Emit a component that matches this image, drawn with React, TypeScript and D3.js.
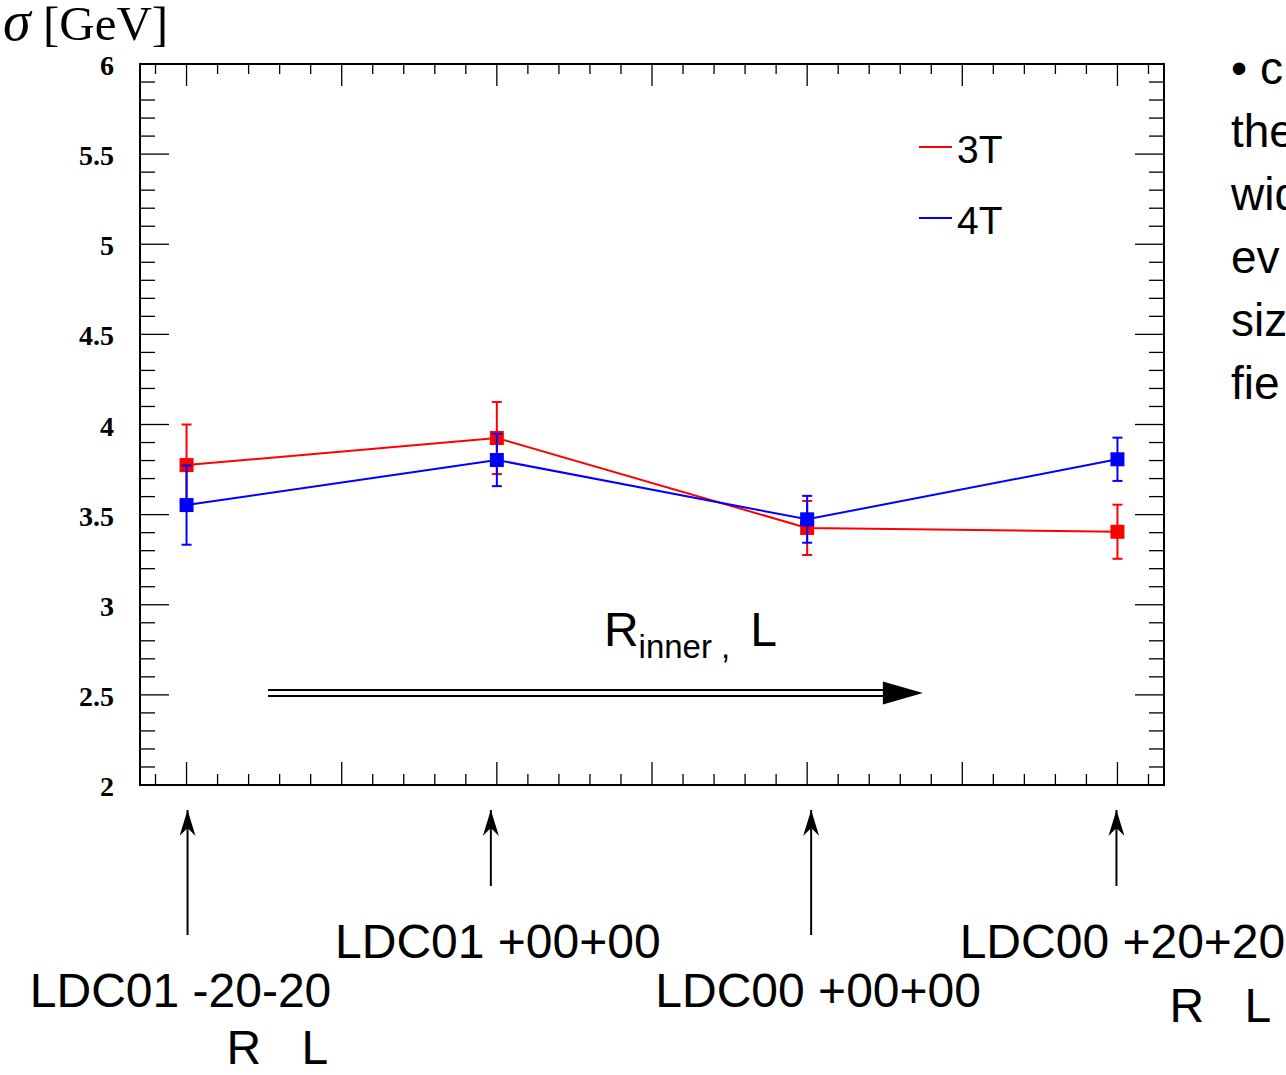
import React, { useEffect } from "react";
import * as d3 from "d3";

// Configurations along the x axis (inner radius R, half-length L)
const categories = ["LDC01 -20-20", "LDC01 +00+00", "LDC00 +00+00", "LDC00 +20+20"];
const categoryIndex = [0, 1, 2, 3];

// Energy resolution sigma [GeV] for the two field strengths
const sigma3T = [3.775, 3.925, 3.426, 3.405];
const error3T = [0.225, 0.2, 0.15, 0.15];
const sigma4T = [3.553, 3.803, 3.474, 3.807];
const error4T = [0.22, 0.145, 0.13, 0.12];

const seriesNames = ["3T", "4T"];
const seriesColors = ["#ff0000", "#0000ff"];

const yTickValues = [2, 2.5, 3, 3.5, 4, 4.5, 5, 5.5, 6];
const yTickLabels = ["2", "2.5", "3", "3.5", "4", "4.5", "5", "5.5", "6"];

// Text on the slide next to the plot
const sideText = ["\u2022 c", "the", "wid", "ev", "siz", "fie"];

const W = 1286;
const H = 1075;
const frame = { left: 140, right: 1164, top: 64, bottom: 785 };

export default function App() {
  useEffect(() => {
    document.body.style.margin = "0";
  }, []);

  const x = d3.scaleLinear().domain([-0.15, 3.15]).range([frame.left, frame.right]);
  const y = d3.scaleLinear().domain([2, 6]).range([frame.bottom, frame.top]);

  const xMinor = d3.range(-1, 32).map((v) => v / 10);
  const yMinor = d3.range(20, 61).map((v) => v / 10);
  const isMajor = (v: number) => Math.abs(Math.round(v * 2) - v * 2) < 1e-6;

  const line = d3
    .line<number>()
    .x((_, i) => x(categoryIndex[i]))
    .y((d) => y(d));

  const series = [
    { name: seriesNames[0], color: seriesColors[0], vals: sigma3T, errs: error3T },
    { name: seriesNames[1], color: seriesColors[1], vals: sigma4T, errs: error4T },
  ];

  const sq = 14;
  const cap = 5;

  // category label placement: alternating rows below the frame
  const labelDx = [-6, 1, 11, 5];
  const labelBaseline = [1007, 958, 1007, 958];
  const arrowDx = [1, -6, 4, -1];
  const arrowBottom = [935, 886, 935, 886];
  const rlBaseline = [1064, null, null, 1022];
  const rlDx = [[40, 115], null, null, [52, 127]];

  const sans = "Arial, 'Liberation Sans', Helvetica, sans-serif";
  const serif = "'Times New Roman', 'Liberation Serif', serif";

  return (
    <svg width={W} height={H} style={{ display: "block", background: "#fff" }}>
      <defs>
        <marker id="upArrow" viewBox="0 0 16 26" refX="8" refY="0" markerWidth="16" markerHeight="26" markerUnits="userSpaceOnUse" orient="0">
          <path d="M8 0 L16 26 L8 18 L0 26 Z" fill="#000" />
        </marker>
      </defs>

      {/* y axis title */}
      <text x={3} y={40} fontFamily={serif} fontSize={56} fontStyle="italic" fill="#000">
        σ
      </text>
      <text x={43} y={40} fontFamily={serif} fontSize={49} fill="#000">
        [GeV]
      </text>

      {/* frame */}
      <rect
        x={frame.left}
        y={frame.top}
        width={frame.right - frame.left}
        height={frame.bottom - frame.top}
        fill="none"
        stroke="#000"
        strokeWidth={2}
      />

      {/* x ticks on bottom and top */}
      {xMinor.map((v, i) => {
        const len = isMajor(v) ? 23 : 11;
        const px = x(v);
        return (
          <g key={"xt" + i} stroke="#000" strokeWidth={1.3}>
            <line x1={px} x2={px} y1={frame.bottom} y2={frame.bottom - len} />
            <line x1={px} x2={px} y1={frame.top} y2={frame.top + len - 1} />
          </g>
        );
      })}

      {/* y ticks on left and right */}
      {yMinor.map((v, i) => {
        const len = isMajor(v) ? 29 : 15;
        const py = y(v);
        return (
          <g key={"yt" + i} stroke="#000" strokeWidth={1.3}>
            <line x1={frame.left} x2={frame.left + len} y1={py} y2={py} />
            <line x1={frame.right} x2={frame.right - len} y1={py} y2={py} />
          </g>
        );
      })}

      {/* y tick labels */}
      {yTickValues.map((v, i) => (
        <text
          key={"yl" + i}
          x={114}
          y={y(v) + 11}
          textAnchor="end"
          fontFamily={serif}
          fontWeight="bold"
          fontSize={28}
          fill="#000"
        >
          {yTickLabels[i]}
        </text>
      ))}

      {/* data series: lines, error bars, markers */}
      {series.map((s) => (
        <g key={s.name}>
          <path d={line(s.vals) || ""} fill="none" stroke={s.color} strokeWidth={2} />
          {s.vals.map((v, i) => {
            const px = x(categoryIndex[i]);
            const top = y(v + s.errs[i]);
            const bot = y(v - s.errs[i]);
            return (
              <g key={i} stroke={s.color} strokeWidth={2}>
                <line x1={px} x2={px} y1={top} y2={bot} />
                <line x1={px - cap} x2={px + cap} y1={top} y2={top} />
                <line x1={px - cap} x2={px + cap} y1={bot} y2={bot} />
                <rect x={px - sq / 2} y={y(v) - sq / 2} width={sq} height={sq} fill={s.color} stroke="none" />
              </g>
            );
          })}
        </g>
      ))}

      {/* legend */}
      {series.map((s, i) => (
        <g key={"lg" + i}>
          <line x1={919} x2={952} y1={147 + i * 71} y2={147 + i * 71} stroke={s.color} strokeWidth={2} />
          <text x={957} y={163 + i * 71} fontFamily={sans} fontSize={39} fill="#000">
            {s.name}
          </text>
        </g>
      ))}

      {/* direction of increasing R_inner and L */}
      <text x={x(1.345)} y={y(2.77)} fontFamily={sans} fontSize={48} fill="#000">
        R
        <tspan dy={12} fontSize={33}>inner ,</tspan>
        <tspan dy={-12} dx={20}>L</tspan>
      </text>
      <g>
        <line x1={x(0.2625)} x2={x(2.26)} y1={y(2.51) - 3} y2={y(2.51) - 3} stroke="#000" strokeWidth={2} />
        <line x1={x(0.2625)} x2={x(2.26)} y1={y(2.51) + 3} y2={y(2.51) + 3} stroke="#000" strokeWidth={2} />
        <path
          d={`M${x(2.244)},${y(2.51) - 11.5} L${x(2.373)},${y(2.51)} L${x(2.244)},${y(2.51) + 11.5} Z`}
          fill="#000"
        />
      </g>

      {/* configuration labels with pointer arrows */}
      {categories.map((c, i) => {
        const px = x(categoryIndex[i]);
        return (
          <g key={"cat" + i}>
            <line
              x1={px + arrowDx[i]}
              x2={px + arrowDx[i]}
              y1={arrowBottom[i]}
              y2={810}
              stroke="#000"
              strokeWidth={2}
              markerEnd="url(#upArrow)"
            />
            <text
              x={px + labelDx[i]}
              y={labelBaseline[i]}
              textAnchor="middle"
              fontFamily={sans}
              fontSize={48}
              fill="#000"
              style={{ whiteSpace: "pre" }}
            >
              {c}
            </text>
            {rlBaseline[i] !== null && (
              <g>
                <text x={px + rlDx[i]![0]} y={rlBaseline[i]!} fontFamily={sans} fontSize={48} fill="#000">
                  R
                </text>
                <text x={px + rlDx[i]![1]} y={rlBaseline[i]!} fontFamily={sans} fontSize={48} fill="#000">
                  L
                </text>
              </g>
            )}
          </g>
        );
      })}

      {/* slide text */}
      {sideText.map((t, i) => (
        <text key={"st" + i} x={1231} y={84 + i * 63} fontFamily={sans} fontSize={46} fill="#000">
          {t}
        </text>
      ))}
    </svg>
  );
}
